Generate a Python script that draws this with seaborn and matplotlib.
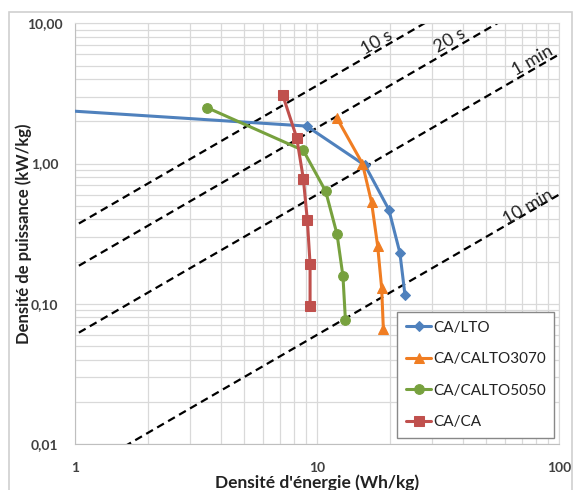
import numpy as np
import pandas as pd
import matplotlib
matplotlib.use("Agg")
import matplotlib.pyplot as plt
import seaborn as sns
from matplotlib.ticker import FixedLocator, FixedFormatter, NullFormatter
from matplotlib.patches import Rectangle

sns.set_style("white")
plt.rcParams['font.family'] = ['Lato', 'DejaVu Sans']

# Ragone data (energy Wh/kg, power kW/kg)
lto_e = [0.5, 9.06, 15.8, 19.8, 22.0, 23.1]
lto_p = [2.55, 1.85, 0.97, 0.47, 0.231, 0.115]
c3070_e = [12.1, 15.4, 16.8, 17.8, 18.5, 18.8]
c3070_p = [2.10, 1.00, 0.53, 0.26, 0.129, 0.066]
c5050_e = [3.52, 8.78, 10.86, 12.1, 12.8, 13.1]
c5050_p = [2.50, 1.24, 0.634, 0.313, 0.157, 0.077]
caca_e = [7.22, 8.24, 8.78, 9.12, 9.36, 9.36]
caca_p = [3.07, 1.53, 0.78, 0.394, 0.193, 0.096]

series = ['CA/LTO', 'CA/CALTO3070', 'CA/CALTO5050', 'CA/CA']
colors = ['#4F81BD', '#F07D22', '#77A13E', '#C0504D']
markers = ['D', '^', 'o', 's']
msizes = [5.5, 7, 7, 7]

# iso-time lines (seconds) and their labels
iso_times = [10, 20, 60, 600]
iso_labels = ['10 s', '20 s', '1 min', '10 min']
iso_label_pos = [(17.6, 7.3), (35.4, 7.6), (78, 5.4), (74.5, 0.49)]

rows = []
for name, es, ps in zip(series, [lto_e, c3070_e, c5050_e, caca_e],
                        [lto_p, c3070_p, c5050_p, caca_p]):
    for i, (e, p) in enumerate(zip(es, ps)):
        rows.append({'Energie': e, 'Puissance': p, 'Cellule': name, 'ordre': i})
df = pd.DataFrame(rows)

fig = plt.figure(figsize=(5.73, 4.90), dpi=100)
ax = fig.add_axes([0.1309, 0.0939, 0.8447, 0.8585])

# outer chart border
fig.patches.append(Rectangle((9 / 573, -0.1), 563 / 573, 1.1 - 12 / 490,
                             transform=fig.transFigure, fill=False,
                             edgecolor='#d0d0d0', linewidth=1.2))

ax.set_xscale('log')
ax.set_yscale('log')
ax.set_xlim(1, 100)
ax.set_ylim(0.01, 10)

# dashed constant-time lines: P = 3.6 * E / t
e_line = np.array([0.5, 200.0])
for t in iso_times:
    ax.plot(e_line, 3.6 * e_line / t, color='black', linestyle=(0, (3.5, 2.2)),
            linewidth=1.6, zorder=2)

for txt, (xe, yp) in zip(iso_labels, iso_label_pos):
    ax.text(xe, yp, txt, rotation=30, ha='center', va='center',
            fontsize=13, color='#222222', rotation_mode='anchor', zorder=3)

for name, c, m, ms in zip(series, colors, markers, msizes):
    sub = df[df['Cellule'] == name]
    sns.lineplot(data=sub, x='Energie', y='Puissance', sort=False, estimator=None,
                 ax=ax, color=c, marker=m, markersize=ms, markeredgecolor=c,
                 linewidth=2.2, label=name, zorder=4)

# grid
ax.xaxis.set_major_locator(FixedLocator([1, 10, 100]))
ax.xaxis.set_major_formatter(FixedFormatter(['1', '10', '100']))
ax.xaxis.set_minor_locator(FixedLocator([k * 10 ** d for d in range(0, 2) for k in range(2, 10)]))
ax.xaxis.set_minor_formatter(NullFormatter())
ax.yaxis.set_major_locator(FixedLocator([0.01, 0.1, 1, 10]))
ax.yaxis.set_major_formatter(FixedFormatter(['0,01', '0,10', '1,00', '10,00']))
ax.yaxis.set_minor_locator(FixedLocator([k * 10.0 ** d for d in range(-2, 1) for k in range(2, 10)]))
ax.yaxis.set_minor_formatter(NullFormatter())
ax.grid(True, which='both', color='#d9d9d9', linewidth=0.9, zorder=0)
ax.set_axisbelow(True)

for s in ['top', 'right']:
    ax.spines[s].set_color('#d9d9d9')
for s in ['left', 'bottom']:
    ax.spines[s].set_color('#bfbfbf')
ax.tick_params(which='both', length=0, labelsize=10, labelcolor='#404040')
ax.tick_params(axis='x', pad=13)
ax.tick_params(axis='y', pad=22)
for lab in ax.get_xticklabels() + ax.get_yticklabels():
    lab.set_fontweight('bold')
for lab in ax.get_yticklabels():
    lab.set_horizontalalignment('center')

ax.set_xlabel("Densité d'énergie (Wh/kg)", fontsize=12.5, fontweight='bold',
              color='#222222')
ax.set_ylabel('Densité de puissance (kW/kg)', fontsize=12, fontweight='bold',
              color='#222222')
ax.xaxis.set_label_coords(0.5, -0.073)
ax.yaxis.set_label_coords(-0.088, 0.5)

leg = ax.legend(loc='lower right', bbox_to_anchor=(0.99, 0.015), fontsize=11,
                frameon=True, fancybox=False, framealpha=1, edgecolor='#888888',
                labelspacing=1.15, handlelength=1.7, handletextpad=0.1,
                borderpad=0.55, borderaxespad=0)
leg.get_frame().set_linewidth(1.0)
for t in leg.get_texts():
    t.set_color('#222222')

fig.savefig('out.png', dpi=100)
